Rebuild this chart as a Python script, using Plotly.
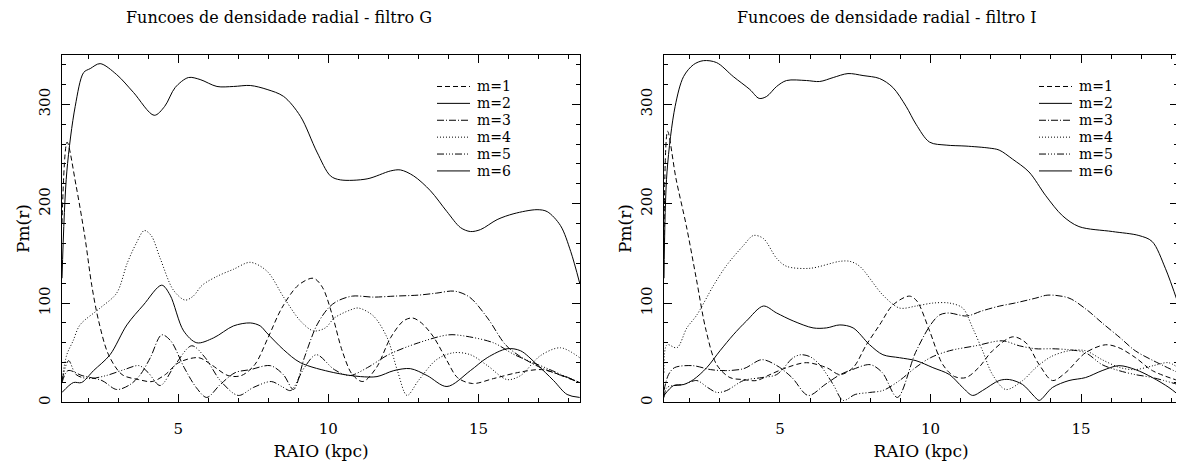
import plotly.graph_objects as go

# ---------------- data: filtro G (left panel) ----------------
g_m1_r = [1.13, 1.3, 1.6, 1.9, 2.12, 2.35, 2.68, 3.13, 3.68, 4.13, 4.57, 5.01, 5.68, 6.1, 6.66, 7.1, 7.55, 7.99, 8.45, 9.0, 9.5, 9.8, 10.13, 10.46, 10.8, 11.15, 11.6, 12.07, 12.5, 12.8, 13.1, 13.5, 13.95, 14.3, 14.8, 15.5, 16.3, 17.1, 17.7, 18.37]
g_m1_p = [180, 262, 218, 165, 118, 82, 48, 28, 23, 21, 28, 40, 45, 38, 27, 27, 38, 65, 95, 118, 125, 116, 88, 52, 28, 21, 35, 65, 82, 85, 80, 66, 42, 25, 19, 24, 30, 33, 28, 20]

g_m2_r = [1.13, 1.51, 1.78, 2.18, 2.73, 3.29, 3.84, 4.45, 4.73, 5.18, 5.62, 6.18, 6.84, 7.4, 7.73, 7.95, 8.51, 9.07, 10.18, 11.07, 11.62, 12.18, 12.73, 13.29, 13.95, 14.73, 15.29, 15.95, 16.4, 16.95, 17.5, 17.95, 18.37]
g_m2_p = [10, 20, 20, 32, 48, 78, 98, 118, 108, 72, 60, 65, 77, 80, 77, 70, 53, 40, 30, 26, 26, 32, 34, 27, 16, 32, 45, 54, 52, 38, 22, 8, 5]

g_m3_r = [1.13, 1.33, 1.8, 2.46, 2.95, 3.4, 3.74, 4.07, 4.45, 4.75, 5.2, 5.6, 5.95, 6.4, 6.9, 7.4, 8.07, 8.5, 8.84, 9.2, 9.62, 10.0, 10.3, 10.8, 11.5, 12.2, 13.0, 13.6, 14.2, 14.7, 15.3, 15.9, 16.4, 17.0, 17.5, 18.37]
g_m3_p = [20, 32, 27, 22, 13, 18, 28, 45, 68, 62, 35, 15, 5, 18, 30, 33, 37, 28, 13, 45, 78, 95, 102, 107, 106, 107, 108, 110, 112, 106, 85, 58, 46, 36, 30, 20]

g_m4_r = [1.13, 1.29, 1.5, 1.73, 2.4, 2.95, 3.3, 3.6, 3.87, 4.1, 4.4, 4.84, 5.23, 5.5, 5.8, 6.3, 6.84, 7.4, 7.96, 8.51, 9.07, 9.5, 9.9, 10.2, 10.73, 11.0, 11.5, 11.96, 12.3, 12.62, 13.0, 13.6, 14.17, 14.73, 15.3, 15.95, 16.4, 17.06, 17.73, 18.37]
g_m4_p = [22, 48, 62, 78, 95, 110, 140, 160, 173, 168, 145, 113, 103, 107, 118, 127, 134, 141, 132, 106, 82, 72, 75, 85, 93, 95, 87, 65, 32, 7, 22, 43, 50, 48, 37, 23, 27, 47, 55, 45]

g_m5_r = [1.13, 1.35, 1.6, 2.0, 2.6, 3.2, 3.7, 4.0, 4.4, 4.9, 5.45, 5.9, 6.4, 7.0, 7.5, 8.1, 8.45, 8.75, 9.2, 9.6, 10.2, 10.7, 11.3, 12.0, 13.0, 14.0, 14.5, 15.5, 16.2, 17.3, 18.37]
g_m5_p = [22, 42, 28, 24, 27, 33, 37, 30, 17, 38, 57, 45, 22, 7, 15, 21, 16, 12, 35, 48, 33, 27, 35, 48, 60, 68, 67, 60, 48, 34, 20]

g_m6_r = [1.13, 1.29, 1.57, 1.85, 2.07, 2.4, 2.95, 3.51, 4.2, 4.55, 4.9, 5.34, 5.73, 6.29, 6.84, 7.4, 7.96, 8.51, 9.07, 9.62, 10.07, 10.4, 11.29, 12.07, 12.4, 12.84, 13.4, 13.95, 14.4, 14.73, 15.07, 15.62, 16.18, 16.95, 17.29, 17.73, 18.07, 18.37]
g_m6_p = [125, 232, 298, 332, 336, 341, 330, 312, 289, 298, 317, 327, 325, 318, 318, 319, 315, 308, 288, 252, 228, 224, 225, 233, 234, 228, 213, 192, 176, 172, 174, 184, 190, 194, 192, 178, 152, 120]

# ---------------- data: filtro I (right panel) ----------------
i_m1_r = [1.15, 1.27, 1.55, 1.89, 2.22, 2.55, 2.9, 3.34, 3.78, 4.22, 4.67, 5.22, 5.88, 6.55, 6.99, 7.43, 7.87, 8.31, 8.75, 9.3, 9.55, 9.97, 10.41, 10.8, 11.18, 11.6, 12.06, 12.73, 13.17, 13.61, 14.05, 14.49, 15.15, 15.81, 16.26, 16.81, 17.37, 18.22]
i_m1_p = [160, 273, 225, 178, 125, 72, 38, 25, 23, 22, 28, 35, 40, 35, 28, 35, 58, 78, 98, 107, 102, 72, 38, 26, 25, 35, 52, 66, 60, 38, 22, 30, 50, 58, 55, 45, 32, 22]

i_m2_r = [1.15, 1.47, 1.8, 2.13, 2.57, 3.01, 3.45, 3.89, 4.45, 4.89, 5.44, 6.1, 6.55, 6.99, 7.43, 7.98, 8.42, 8.97, 9.52, 10.08, 10.63, 11.07, 11.4, 11.73, 12.28, 12.62, 13.06, 13.45, 13.61, 14.05, 14.6, 15.15, 15.7, 16.26, 16.81, 17.37, 17.92, 18.22]
i_m2_p = [7, 17, 18, 23, 35, 52, 68, 82, 97, 90, 82, 75, 75, 78, 75, 58, 48, 45, 42, 35, 28, 15, 7, 12, 22, 23, 18, 6, 2, 15, 22, 25, 32, 37, 33, 25, 15, 8]

i_m3_r = [1.15, 1.3, 1.5, 2.1, 2.7, 3.2, 3.8, 4.4, 4.9, 5.4, 5.94, 6.5, 7.0, 7.4, 8.0, 8.4, 8.9, 9.5, 10.0, 10.3, 10.6, 11.2, 11.7, 12.3, 12.8, 13.5, 13.9, 14.6, 15.2, 15.7, 16.3, 16.8, 17.4, 18.22]
i_m3_p = [12, 28, 35, 37, 33, 32, 34, 43, 37, 25, 7, 18, 28, 33, 38, 30, 5, 50, 78, 88, 90, 87, 92, 97, 100, 105, 108, 105, 93, 80, 65, 52, 42, 30]

i_m4_r = [1.15, 1.25, 1.58, 1.91, 2.24, 2.8, 3.23, 3.79, 4.12, 4.45, 4.89, 5.22, 6.0, 6.99, 7.32, 7.65, 8.42, 8.97, 9.52, 10.08, 10.63, 11.07, 11.4, 11.73, 12.06, 12.5, 13.06, 13.5, 14.0, 14.6, 15.15, 15.7, 16.3, 16.8, 17.4, 17.9, 18.22]
i_m4_p = [30, 58, 55, 75, 88, 118, 138, 158, 168, 165, 145, 137, 135, 142, 142, 137, 108, 95, 97, 100, 100, 95, 75, 52, 28, 13, 22, 35, 46, 52, 52, 43, 35, 33, 37, 40, 35]

i_m5_r = [1.15, 1.25, 1.8, 2.24, 2.6, 2.91, 3.23, 3.79, 4.4, 4.89, 5.44, 5.7, 6.0, 6.32, 6.77, 7.1, 7.5, 7.98, 8.42, 8.97, 9.5, 10.0, 10.63, 11.5, 12.39, 12.95, 13.5, 14.05, 14.6, 15.15, 15.7, 16.26, 16.8, 17.37, 18.22]
i_m5_p = [5, 15, 18, 22, 15, 10, 12, 22, 25, 28, 45, 48, 46, 38, 18, 2, 8, 10, 12, 22, 35, 45, 52, 57, 62, 57, 54, 54, 53, 50, 38, 32, 28, 25, 18]

i_m6_r = [1.15, 1.25, 1.52, 1.8, 2.13, 2.46, 2.9, 3.45, 4.0, 4.31, 4.56, 4.89, 5.22, 5.88, 6.32, 6.77, 7.26, 7.76, 8.31, 8.75, 9.19, 9.52, 9.97, 10.52, 11.18, 11.95, 12.28, 12.72, 13.27, 13.83, 14.38, 14.93, 16.04, 16.92, 17.36, 17.8, 18.22]
i_m6_p = [125, 232, 298, 328, 340, 344, 342, 328, 315, 306, 308, 318, 324, 324, 323, 327, 331, 329, 326, 317, 298, 280, 262, 259, 258, 256, 254, 245, 232, 208, 188, 177, 172, 168, 162, 135, 100]

labels = ["m=1", "m=2", "m=3", "m=4", "m=5", "m=6"]
titles = ["Funcoes de densidade radial - filtro G", "Funcoes de densidade radial - filtro I"]
x_title = "RAIO (kpc)"
y_title = "Pm(r)"

# ---------------- styling ----------------
FONT = "DejaVu Serif"
dashes = ["5px,3px", "solid", "7px,2px,1px,2px", "1px,2px", "7px,2px,1px,2px,1px,2px,1px,2px", "solid"]

# the page body has an 8px margin on the top/left; keep the figure inside the window
OFF = 8
W, H = 1184 - OFF, 468 - OFF
def fx(px):
    return (px - OFF) / W
def fy(py):
    return 1 - (py - OFF) / H

fig = go.Figure()

panels = [
    ([g_m1_r, g_m2_r, g_m3_r, g_m4_r, g_m5_r, g_m6_r], [g_m1_p, g_m2_p, g_m3_p, g_m4_p, g_m5_p, g_m6_p], "x", "y"),
    ([i_m1_r, i_m2_r, i_m3_r, i_m4_r, i_m5_r, i_m6_r], [i_m1_p, i_m2_p, i_m3_p, i_m4_p, i_m5_p, i_m6_p], "x2", "y2"),
]
for rs, ps, xa, ya in panels:
    for k in range(6):
        fig.add_trace(go.Scatter(
            x=rs[k], y=ps[k], mode="lines", name=labels[k],
            line=dict(color="black", width=1, dash=dashes[k], shape="spline", smoothing=0.9),
            xaxis=xa, yaxis=ya, showlegend=False,
        ))

def xax(dom, rng, anchor):
    return dict(domain=dom, range=rng, showgrid=False, zeroline=False, anchor=anchor,
                showline=True, linecolor="black", linewidth=1, mirror="ticks",
                ticks="inside", ticklen=8, tickcolor="black", tickwidth=1,
                tick0=0, dtick=5, ticklabelstandoff=13,
                minor=dict(ticks="inside", ticklen=4, dtick=1, tickcolor="black", tickwidth=1, showgrid=False),
                tickfont=dict(family=FONT, size=15, color="black"),
                title=dict(text=x_title, font=dict(family=FONT, size=17, color="black"), standoff=7))

def yax(dom, anchor):
    return dict(domain=dom, range=[0, 350], showgrid=False, zeroline=False, anchor=anchor,
                showline=True, linecolor="black", linewidth=1, mirror="ticks",
                ticks="inside", ticklen=8, tickcolor="black", tickwidth=1,
                tick0=0, dtick=100, tickangle=-90, ticklabelstandoff=5,
                minor=dict(ticks="inside", ticklen=4, dtick=20, tickcolor="black", tickwidth=1, showgrid=False),
                tickfont=dict(family=FONT, size=15, color="black"),
                title=dict(text=y_title, font=dict(family=FONT, size=17, color="black"), standoff=2))

ydom = [fy(405), fy(55)]
fig.update_layout(
    width=W, height=H, margin=dict(l=0, r=0, t=0, b=0),
    paper_bgcolor="white", plot_bgcolor="white",
    xaxis=xax([fx(62), fx(580)], [1.13, 18.38], "y"),
    yaxis=yax(ydom, "x"),
    xaxis2=xax([fx(664), fx(1178)], [1.15, 18.22], "y2"),
    yaxis2=yax(ydom, "x2"),
    showlegend=False,
)

# panel titles
for c, t in zip([279, 886], titles):
    fig.add_annotation(text=t, x=fx(c), y=fy(18), xref="paper", yref="paper",
                       showarrow=False, xanchor="center", yanchor="middle",
                       font=dict(family=FONT, size=16, color="black"))

# legend keys (line sample + label) in the upper right of each panel
LEG_ROW0, LEG_DY = 87, 17
for key_x0 in (437, 1039):
    for k in range(6):
        yy = fy(LEG_ROW0 + k * LEG_DY)
        fig.add_shape(type="line", xref="paper", yref="paper",
                      x0=fx(key_x0), x1=fx(key_x0 + 33), y0=yy, y1=yy,
                      line=dict(color="black", width=1, dash=dashes[k]))
        fig.add_annotation(text=labels[k], x=fx(key_x0 + 39), y=yy, xref="paper", yref="paper",
                           showarrow=False, xanchor="left", yanchor="middle", borderpad=0,
                           font=dict(family=FONT, size=14, color="black"))

fig.write_html("out.html")
